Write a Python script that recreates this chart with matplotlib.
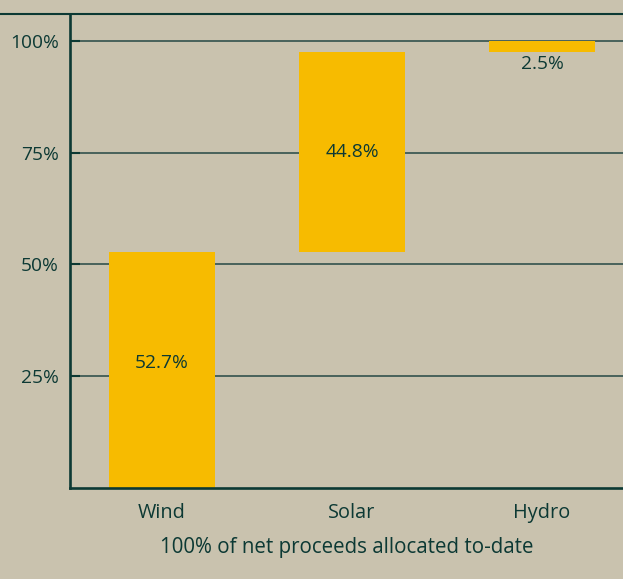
import matplotlib.pyplot as plt
from matplotlib.lines import Line2D
import numpy as np

# data
categories = ['Wind', 'Solar', 'Hydro']
shares = [52.7, 44.8, 2.5]
yticks = [25, 50, 75, 100]
ytick_labels = ['25%', '50%', '75%', '100%']

BG = '#c9c2ae'
BAR = '#f7bb00'
INK = '#0c3934'
GRID = '#3e5a55'
FS = 13.8

plt.rcParams['font.family'] = ['Open Sans', 'DejaVu Sans']

fig = plt.figure(figsize=(6.23, 5.79), dpi=100, facecolor=BG)
ax = fig.add_axes([70 / 623, (579 - 487.6) / 579, 553 / 623, 474.1 / 579])
ax.set_facecolor(BG)

# waterfall: each bar starts where the previous one ended
bottoms = np.concatenate([[0], np.cumsum(shares)[:-1]])
x = np.arange(len(categories))
ax.bar(x, shares, bottom=bottoms, width=0.558, color=BAR, zorder=3)

label_shift = [1.5, 0.0]   # small nudges seen in the original
for i, (b, s) in enumerate(zip(bottoms, shares)):
    if s > 10:
        ax.text(x[i], b + s / 2 + label_shift[i], f'{s}%', ha='center',
                va='center', fontsize=FS, color=INK, zorder=4)
    else:
        # too thin, put label underneath
        ax.text(x[i], b - 2.6, f'{s}%', ha='center', va='center',
                fontsize=FS, color=INK, zorder=4)

ax.set_xlim(-0.484, 2.426)
ax.set_ylim(0, 106.2)
ax.set_xticks(x)
ax.set_xticklabels(categories)
ax.set_yticks(yticks)
ax.set_yticklabels(ytick_labels)

ax.tick_params(axis='x', length=0, pad=11, labelsize=14.3, labelcolor=INK)
ax.tick_params(axis='y', direction='in', length=7.2, width=1.5, color=INK,
               pad=8, labelsize=FS, labelcolor=INK)

ax.yaxis.grid(True, color=GRID, linewidth=1.3, zorder=1)
ax.set_axisbelow(True)

for side in ['top', 'right']:
    ax.spines[side].set_visible(False)
for side in ['left', 'bottom']:
    ax.spines[side].set_color(INK)
    ax.spines[side].set_linewidth(1.9)
    ax.spines[side].set_zorder(5)

ax.set_xlabel('100% of net proceeds allocated to-date', fontsize=14.8,
              color=INK, labelpad=10)

# rule across the top of the figure
fig.add_artist(Line2D([0, 1], [1 - 13.5 / 579] * 2, color=INK, linewidth=1.5,
                      transform=fig.transFigure))

fig.savefig('out.png', dpi=100, facecolor=BG)
